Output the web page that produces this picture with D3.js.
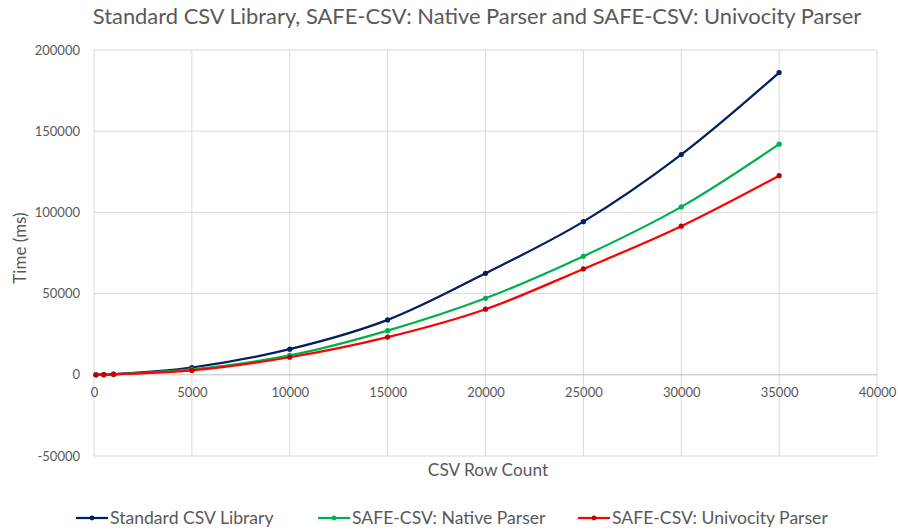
<!DOCTYPE html>
<html>
<head>
<meta charset="utf-8">
<script src="https://cdn.jsdelivr.net/npm/d3@7"></script>
<style>
  body { margin: 0; background: #fff; }
  text { font-family: Lato, "Open Sans", sans-serif; fill: #595959; }
</style>
</head>
<body>
<div id="chart"></div>
<script>
const rowCounts = [100, 500, 1000, 5000, 10000, 15000, 20000, 25000, 30000, 35000];
const standardCsv = [20, 150, 400, 4500, 15800, 33800, 62500, 94300, 135600, 186100];
const nativeParser = [15, 110, 300, 3300, 11900, 27200, 47100, 73000, 103400, 142000];
const univocityParser = [15, 100, 280, 2700, 10800, 23200, 40400, 65200, 91500, 122600];
const seriesNames = ["Standard CSV Library", "SAFE-CSV: Native Parser", "SAFE-CSV: Univocity Parser"];
const xTicks = [0, 5000, 10000, 15000, 20000, 25000, 30000, 35000, 40000];
const yTicks = [-50000, 0, 50000, 100000, 150000, 200000];

let width = 898,
    height = 531;
let margin = {top: 50, right: 21, bottom: 75, left: 94};

let svg = d3.select("#chart").append("svg")
  .attr("width", width)
  .attr("height", height);

let x = d3.scaleLinear()
  .domain([0, 40000])
  .range([margin.left, width - margin.right]);

let y = d3.scaleLinear()
  .domain([-50000, 200000])
  .range([height - margin.bottom, margin.top]);

// gridlines
svg.append("g")
  .selectAll("line.vg")
  .data(xTicks)
  .enter().append("line")
    .attr("x1", d => x(d)).attr("x2", d => x(d))
    .attr("y1", y(200000)).attr("y2", y(-50000))
    .attr("stroke", "#d9d9d9").attr("stroke-width", 1);

svg.append("g")
  .selectAll("line.hg")
  .data(yTicks)
  .enter().append("line")
    .attr("x1", x(0)).attr("x2", x(40000))
    .attr("y1", d => y(d)).attr("y2", d => y(d))
    .attr("stroke", d => d === 0 ? "#bfbfbf" : "#d9d9d9").attr("stroke-width", 1);

// axes labels (x axis sits on the zero line)
let xAxis = svg.append("g")
  .attr("transform", `translate(0,${y(0)})`)
  .call(d3.axisBottom(x).tickValues(xTicks).tickSize(0).tickPadding(13).tickFormat(d => String(d)));
xAxis.select(".domain").remove();

let yAxis = svg.append("g")
  .attr("transform", `translate(${x(0)},0)`)
  .call(d3.axisLeft(y).tickValues(yTicks).tickSize(0).tickPadding(14).tickFormat(d => String(d)));
yAxis.select(".domain").remove();

svg.selectAll(".tick text")
  .attr("font-family", "Lato, sans-serif")
  .attr("font-size", 13)
  .attr("fill", "#595959");

// titles
svg.append("text")
  .attr("x", 477).attr("y", 24)
  .attr("text-anchor", "middle")
  .attr("font-size", 21.9)
  .text("Standard CSV Library, SAFE-CSV: Native Parser and SAFE-CSV: Univocity Parser");

svg.append("text")
  .attr("x", 488).attr("y", 476)
  .attr("text-anchor", "middle")
  .attr("font-size", 17.3)
  .text("CSV Row Count");

svg.append("text")
  .attr("transform", "translate(26,248) rotate(-90)")
  .attr("text-anchor", "middle")
  .attr("font-size", 17)
  .text("Time (ms)");

// series
let series = [
  {name: seriesNames[0], values: standardCsv, color: "#002060", marker: "#002060"},
  {name: seriesNames[1], values: nativeParser, color: "#00b050", marker: "#00b050"},
  {name: seriesNames[2], values: univocityParser, color: "#ff0000", marker: "#c00000"}
];

let line = d3.line()
  .x(d => x(d[0]))
  .y(d => y(d[1]))
  .curve(d3.curveCatmullRom.alpha(0.5));

series.forEach(s => {
  let pts = rowCounts.map((r, i) => [r, s.values[i]]);
  svg.append("path")
    .datum(pts)
    .attr("fill", "none")
    .attr("stroke", s.color)
    .attr("stroke-width", 2.25)
    .attr("d", line);
  svg.append("g")
    .selectAll("circle")
    .data(pts)
    .enter().append("circle")
      .attr("cx", d => x(d[0]))
      .attr("cy", d => y(d[1]))
      .attr("r", 2.6)
      .attr("fill", s.marker);
});

// legend
let legendX = [76, 318, 578];
let legend = svg.append("g").attr("transform", "translate(0,518)");
series.forEach((s, i) => {
  let g = legend.append("g").attr("transform", `translate(${legendX[i]},0)`);
  g.append("line")
    .attr("x1", 0).attr("x2", 32)
    .attr("stroke", s.color).attr("stroke-width", 2.25);
  g.append("circle").attr("cx", 16).attr("r", 2.4).attr("fill", s.marker);
  g.append("text")
    .attr("x", 34).attr("dy", "0.35em")
    .attr("font-size", 17.6)
    .text(s.name);
});
</script>
</body>
</html>
